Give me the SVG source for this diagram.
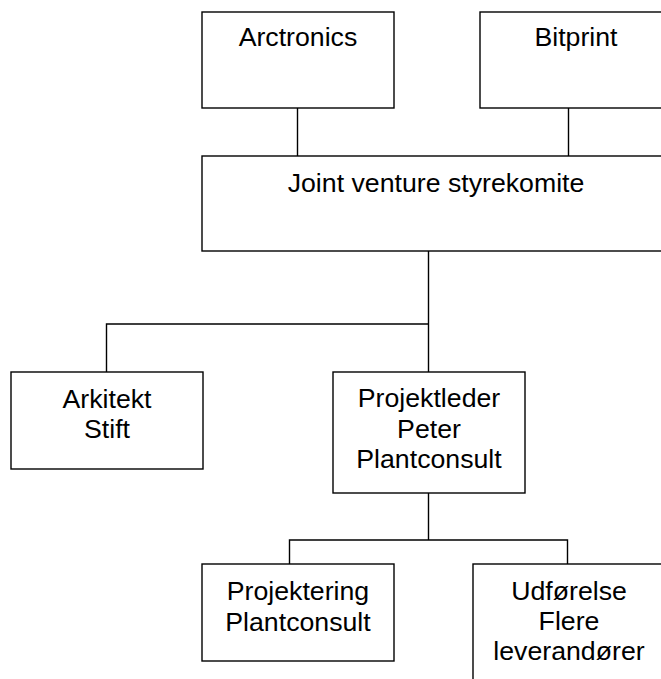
<svg xmlns="http://www.w3.org/2000/svg" width="661" height="679" viewBox="0 0 661 679">
<style>
.box{fill:#fff;stroke:#000;stroke-width:1.4}
.lbl{font-family:"Liberation Sans",Arial,sans-serif;font-size:26.7px;fill:#000;text-anchor:middle}
.con{fill:none;stroke:#000;stroke-width:1.4}
</style>
<rect width="661" height="679" fill="#fff"/>
<g id="connectors">
<path class="con" d="M297.5 108V156"/>
<path class="con" d="M568.5 108V156"/>
<path class="con" d="M428.5 251V372M106.5 372V324H428.5"/>
<path class="con" d="M428.5 493V540M289.5 564V540H567.5V564"/>
</g>
<g id="arctronics">
<rect class="box" x="202" y="12" width="192" height="96"/>
<text class="lbl" x="298" y="46">Arctronics</text>
</g>
<g id="bitprint">
<rect class="box" x="480" y="12" width="192" height="96"/>
<text class="lbl" x="576" y="46">Bitprint</text>
</g>
<g id="jointventure">
<rect class="box" x="202" y="156" width="468" height="95"/>
<text class="lbl" x="436" y="192">Joint venture styrekomite</text>
</g>
<g id="arkitekt">
<rect class="box" x="11" y="372" width="192" height="97"/>
<text class="lbl" x="107" y="408">Arkitekt</text>
<text class="lbl" x="107" y="438">Stift</text>
</g>
<g id="projektleder">
<rect class="box" x="333" y="372" width="192" height="121"/>
<text class="lbl" x="429" y="407">Projektleder</text>
<text class="lbl" x="429" y="438">Peter</text>
<text class="lbl" x="429" y="468">Plantconsult</text>
</g>
<g id="projektering">
<rect class="box" x="202" y="564" width="192" height="97"/>
<text class="lbl" x="298" y="600">Projektering</text>
<text class="lbl" x="298" y="631">Plantconsult</text>
</g>
<g id="udfoerelse">
<rect class="box" x="473" y="564" width="192" height="121"/>
<text class="lbl" x="569" y="600">Udførelse</text>
<text class="lbl" x="569" y="630">Flere</text>
<text class="lbl" x="569" y="660">leverandører</text>
</g>
</svg>
